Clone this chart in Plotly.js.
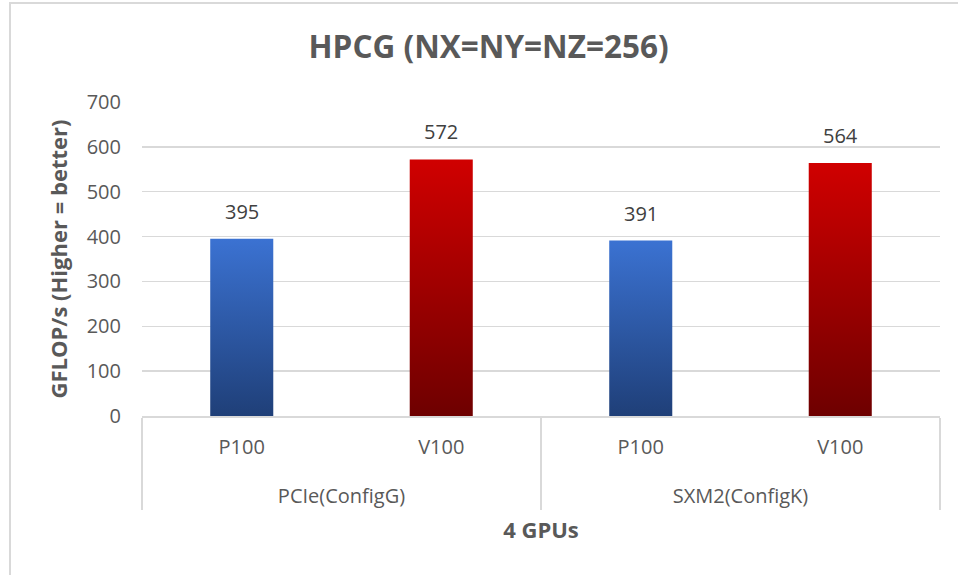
<!DOCTYPE html>
<html>
<head>
<meta charset="utf-8">
<script src="https://cdn.plot.ly/plotly-3.0.1.min.js"></script>
<style>
html,body{margin:0;padding:0;background:#fff;}
#chart{width:958px;height:575px;}
</style>
</head>
<body>
<div id="chart"></div>
<script>
var groups = ["PCIe(ConfigG)", "PCIe(ConfigG)", "SXM2(ConfigK)", "SXM2(ConfigK)"];
var gpus = ["P100", "V100", "P100", "V100"];
var gflops = [395, 572, 391, 564];
var barKinds = ["blue", "red", "blue", "red"];
var yTicks = [0, 100, 200, 300, 400, 500, 600, 700];

var FONT = "Open Sans, Lato, sans-serif";
var GREY = "#595959";

var bars = {
  type: "bar",
  x: [groups, gpus],
  y: gflops,
  marker: {color: barKinds.map(function(k){return k === "blue" ? "#3366bb" : "#aa0000";}), line: {width: 0}},
  hoverinfo: "none",
  showlegend: false
};

var L = 142, R = 18, T = 102, B = 159, W = 958, H = 575;
var pw = W - L - R, ph = H - T - B;
function px(x){return (x - L) / pw;}
function py(y){return (H - B - y) / ph;}

var annotations = gflops.map(function(v, i){
  return {x: i, y: v, xref: "x", yref: "y", text: String(v), showarrow: false,
    yanchor: "bottom", yshift: 12, font: {family: FONT, size: 20, color: "#404040"}};
});

var layout = {
  width: W, height: H,
  margin: {l: L, r: R, t: T, b: B},
  paper_bgcolor: "#fff", plot_bgcolor: "#fff",
  font: {family: FONT, color: GREY},
  bargap: 0.684,
  title: {text: "<b>HPCG (NX=NY=NZ=256)</b>", font: {family: FONT, size: 31.5, color: GREY}, x: 0.51, xanchor: "center", y: 0.918, yanchor: "middle"},
  xaxis: {
    type: "multicategory",
    showline: true, linecolor: "#d9d9d9", linewidth: 1.5,
    showdividers: true, dividercolor: "#d9d9d9", dividerwidth: 1.5,
    tickfont: {family: FONT, size: 20, color: GREY},
    ticks: "", showgrid: false,
    ticklabelstandoff: 12,
    title: {text: "<b>4 GPUs</b>", font: {family: FONT, size: 22, color: GREY}, standoff: 47}
  },
  yaxis: {
    range: [0, 700], tickvals: yTicks, ticktext: yTicks.map(String),
    showgrid: true, gridcolor: "#d9d9d9", gridwidth: 1.3,
    zeroline: false, showline: false, ticks: "",
    ticklabelstandoff: 20,
    tickfont: {family: FONT, size: 20, color: GREY},
    title: {text: "<b>GFLOP/s (Higher = better)</b>", font: {family: FONT, size: 22, color: GREY}, standoff: 12}
  },
  annotations: annotations,
  shapes: [
    {type: "line", xref: "paper", yref: "paper", x0: px(9), x1: px(958), y0: py(3), y1: py(3), line: {color: "#d9d9d9", width: 2}},
    {type: "line", xref: "paper", yref: "paper", x0: px(10), x1: px(10), y0: py(3), y1: py(575), line: {color: "#d9d9d9", width: 2}}
  ]
};

Plotly.newPlot("chart", [bars], layout, {displayModeBar: false, staticPlot: true}).then(function(gd){
  var svg = gd.querySelector("svg.main-svg");
  var ns = "http://www.w3.org/2000/svg";
  var defs = svg.querySelector("defs") || svg.insertBefore(document.createElementNS(ns, "defs"), svg.firstChild);
  function grad(id, top, bottom){
    var g = document.createElementNS(ns, "linearGradient");
    g.setAttribute("id", id);
    g.setAttribute("x1", "0"); g.setAttribute("y1", "0");
    g.setAttribute("x2", "0"); g.setAttribute("y2", "1");
    [[0, top], [1, bottom]].forEach(function(s){
      var st = document.createElementNS(ns, "stop");
      st.setAttribute("offset", s[0]);
      st.setAttribute("stop-color", s[1]);
      g.appendChild(st);
    });
    defs.appendChild(g);
  }
  grad("gradblue", "#3b72d2", "#1f3f78");
  grad("gradred", "#d00000", "#6e0000");
  gd.querySelectorAll(".barlayer .point path").forEach(function(p, i){
    p.style.fill = "url(#grad" + barKinds[i] + ")";
  });
  // spread the two label rows of the multicategory axis apart
  var target2 = 495;
  var axisBottom = H - B;
  gd.querySelectorAll(".xtick2").forEach(function(g){
    var bb = g.getBBox();
    var cur = bb.y + bb.height / 2;
    var existing = g.getAttribute("transform") || "";
    g.setAttribute("transform", "translate(0," + (target2 - cur).toFixed(1) + ") " + existing);
  });
  gd.querySelectorAll("path.xdivider").forEach(function(p){
    var d = p.getAttribute("d");
    p.setAttribute("d", d.replace(/v(-?[\d.]+)/, "v" + (508 - axisBottom)));
  });
});
</script>
</body>
</html>
